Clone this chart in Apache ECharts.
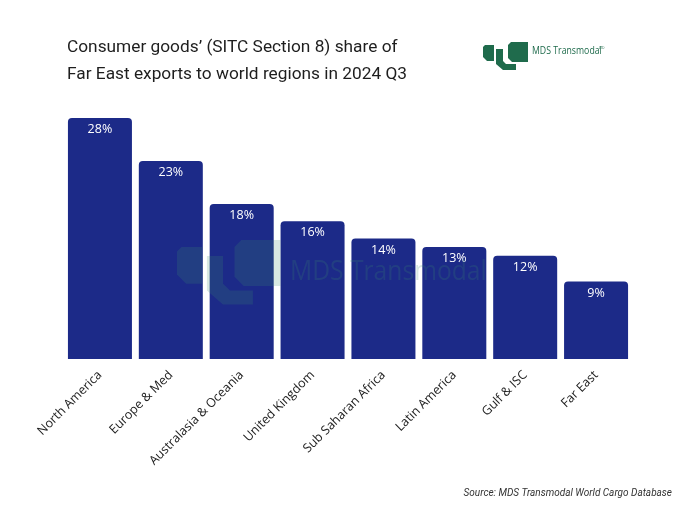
<!DOCTYPE html>
<html lang="en">
<head>
    <meta charset="UTF-8"/>
    <script src="https://cdn.jsdelivr.net/npm/echarts@6/dist/echarts.min.js"></script>
    <title>Consumer goods share</title>
    <style>
        html, body { margin: 0; padding: 0; background: #fff; }
        #chart { width: 680px; height: 510px; }
    </style>
</head>
<body>
<div id="chart"></div>
<script type="text/javascript">
    // data
    var regions = ['North America', 'Europe & Med', 'Australasia & Oceania', 'United Kingdom',
        'Sub Saharan Africa', 'Latin America', 'Gulf & ISC', 'Far East'];
    var shares = [28, 23, 18, 16, 14, 13, 12, 9];

    var green = '#1f6b4c';

    // logo mark: three shapes, in small-logo pixel units
    function logoMark(x, y, s, color, op) {
        var shapes = [
            [[2, 3], [11, 3], [11, 19], [4, 19], [0, 15], [0, 5]],
            [[13, 7], [20, 7], [20, 19], [23, 22], [33, 22], [33, 28], [20, 28], [13, 22]],
            [[28, 0], [45, 0], [45, 20], [29, 20], [25, 16], [25, 3]]
        ];
        return {
            type: 'group', x: x, y: y, scaleX: s, scaleY: s, silent: true,
            children: shapes.map(function (p) {
                return { type: 'polygon', z: 100, shape: { points: p }, style: { fill: color, opacity: op } };
            })
        };
    }

    var myChart = echarts.init(document.getElementById('chart'));
    var option = {
        backgroundColor: '#ffffff',
        animation: false,
        title: {
            text: 'Consumer goods’ (SITC Section 8) share of\nFar East exports to world regions in 2024 Q3',
            left: 62, top: 29,
            textStyle: { color: '#1e1e1e', fontSize: 17.3, fontWeight: 'normal', fontFamily: 'Roboto', lineHeight: 27 }
        },
        grid: { left: 64.5, right: 48.5, top: 118, bottom: 151 },
        xAxis: {
            type: 'category',
            data: regions,
            axisLine: { show: false },
            axisTick: { show: false },
            axisLabel: {
                rotate: 45, margin: 14, color: '#222', fontSize: 12.5,
                fontFamily: '"Open Sans", sans-serif', interval: 0
            }
        },
        yAxis: {
            type: 'value', min: 0, max: 28,
            show: false,
            splitLine: { show: false }
        },
        series: [{
            type: 'bar',
            data: shares,
            barWidth: 64,
            itemStyle: { color: '#1c2a88', borderRadius: [4, 4, 0, 0] },
            label: {
                show: true, position: 'insideTop', distance: 5,
                color: '#ffffff', fontSize: 12.5, fontFamily: '"Open Sans", sans-serif',
                formatter: '{c}%'
            }
        }],
        graphic: [
            logoMark(483, 42, 1, green, 1),
            {
                type: 'text', x: 532, y: 51, scaleX: 0.76, z: 100, silent: true,
                style: { text: 'MDS Transmodal', fill: green, font: '11.5px "Open Sans", sans-serif', textVerticalAlign: 'middle' }
            },
            {
                type: 'text', x: 599, y: 48, z: 100, silent: true,
                style: { text: 'LTD', fill: green, font: '3px sans-serif', textVerticalAlign: 'middle' }
            },
            logoMark(177, 240, 2.3, '#3a8f70', 0.2),
            {
                type: 'text', x: 290, y: 272, scaleX: 0.88, z: 100, silent: true,
                style: { text: 'MDS Transmodal', fill: '#3a8f70', opacity: 0.2, font: '28px "Open Sans", sans-serif', textVerticalAlign: 'middle' }
            },
            {
                type: 'text', right: 8, top: 488, silent: true,
                style: { text: 'Source: MDS Transmodal World Cargo Database', fill: '#333', font: 'italic 10px Roboto, sans-serif' }
            }
        ]
    };
    myChart.setOption(option);
</script>
</body>
</html>
